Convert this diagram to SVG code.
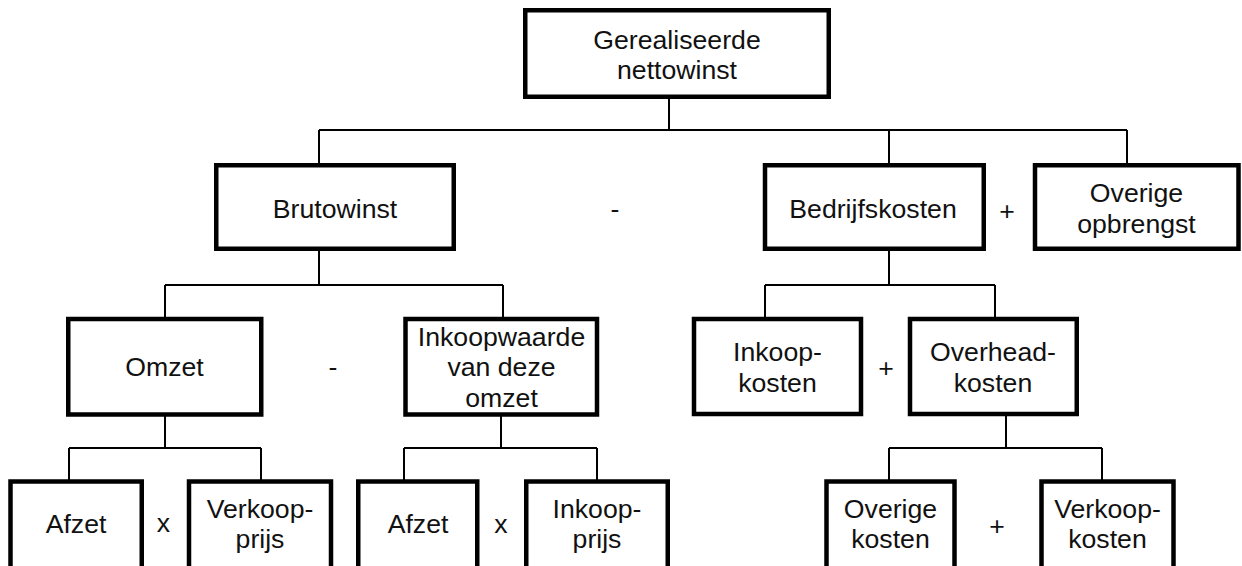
<svg xmlns="http://www.w3.org/2000/svg" width="1242" height="566" viewBox="0 0 1242 566">
<style>
.box{fill:#fff;stroke:#000;stroke-width:4.5}
.t{font-family:"Liberation Sans",Arial,sans-serif;font-size:26.67px;fill:#111;text-anchor:middle}
.c{fill:none;stroke:#000;stroke-width:2}
</style>
<rect width="1242" height="566" fill="#fff"/>
<g id="connectors">
<path class="c" d="M669,99V130M319,130H1127M319,130V163M889,130V163M1127,130V163"/>
<path class="c" d="M319,251V285M165,285H503M165,285V317M503,285V317"/>
<path class="c" d="M889,251V285M765,285H995M765,285V317M995,285V317"/>
<path class="c" d="M165,416V448M69,448H261M69,448V480M261,448V480"/>
<path class="c" d="M501,416V448M404,448H597M404,448V480M597,448V480"/>
<path class="c" d="M1006,416V448M889,448H1102M889,448V480M1102,448V480"/>
</g>
<g id="n-nettowinst"><rect class="box" x="525.25" y="10.25" width="303.5" height="86.5"/><text class="t" x="677" y="48.5">Gerealiseerde</text><text class="t" x="677" y="79">nettowinst</text></g>
<g id="n-brutowinst"><rect class="box" x="216.25" y="165.25" width="237.5" height="83.5"/><text class="t" x="335" y="217.5">Brutowinst</text></g>
<g id="op1"><text class="t" x="615" y="217.5">-</text></g>
<g id="n-bedrijfskosten"><rect class="box" x="765" y="165.25" width="218.75" height="83.5"/><text class="t" x="873" y="217.5">Bedrijfskosten</text></g>
<g id="op2"><text class="t" x="1007" y="219.5">+</text></g>
<g id="n-overigeopbrengst"><rect class="box" x="1035" y="165.25" width="203.5" height="83.5"/><text class="t" x="1136.5" y="202">Overige</text><text class="t" x="1136.5" y="232.5">opbrengst</text></g>
<g id="n-omzet"><rect class="box" x="68.25" y="319" width="193" height="95.5"/><text class="t" x="164.5" y="376">Omzet</text></g>
<g id="op3"><text class="t" x="333" y="375.5">-</text></g>
<g id="n-inkoopwaarde"><rect class="box" x="405.5" y="319" width="191.5" height="95.5"/><text class="t" x="501.5" y="345.5">Inkoopwaarde</text><text class="t" x="501.5" y="376">van deze</text><text class="t" x="501.5" y="406.5">omzet</text></g>
<g id="n-inkoopkosten"><rect class="box" x="694" y="319" width="167" height="95"/><text class="t" x="777.5" y="361">Inkoop-</text><text class="t" x="777.5" y="391.5">kosten</text></g>
<g id="op4"><text class="t" x="886" y="376.5">+</text></g>
<g id="n-overheadkosten"><rect class="box" x="910" y="319" width="166.75" height="95"/><text class="t" x="993" y="361">Overhead-</text><text class="t" x="993" y="391.5">kosten</text></g>
<g id="n-afzet1"><rect class="box" x="10.5" y="481.5" width="131.25" height="100"/><text class="t" x="76" y="533">Afzet</text></g>
<g id="op5"><text class="t" x="163.5" y="532">x</text></g>
<g id="n-verkoopprijs"><rect class="box" x="189" y="481.5" width="142" height="100"/><text class="t" x="260" y="517.5">Verkoop-</text><text class="t" x="260" y="548">prijs</text></g>
<g id="n-afzet2"><rect class="box" x="358.25" y="481.5" width="119" height="100"/><text class="t" x="418" y="533">Afzet</text></g>
<g id="op6"><text class="t" x="501" y="533">x</text></g>
<g id="n-inkoopprijs"><rect class="box" x="526.25" y="481.5" width="141.5" height="100"/><text class="t" x="597" y="517.5">Inkoop-</text><text class="t" x="597" y="548">prijs</text></g>
<g id="n-overigekosten"><rect class="box" x="826.5" y="481.5" width="128" height="100"/><text class="t" x="890.5" y="518">Overige</text><text class="t" x="890.5" y="548">kosten</text></g>
<g id="op7"><text class="t" x="997" y="534.5">+</text></g>
<g id="n-verkoopkosten"><rect class="box" x="1041.5" y="481.5" width="132" height="100"/><text class="t" x="1107.5" y="518">Verkoop-</text><text class="t" x="1107.5" y="548">kosten</text></g>
</svg>
